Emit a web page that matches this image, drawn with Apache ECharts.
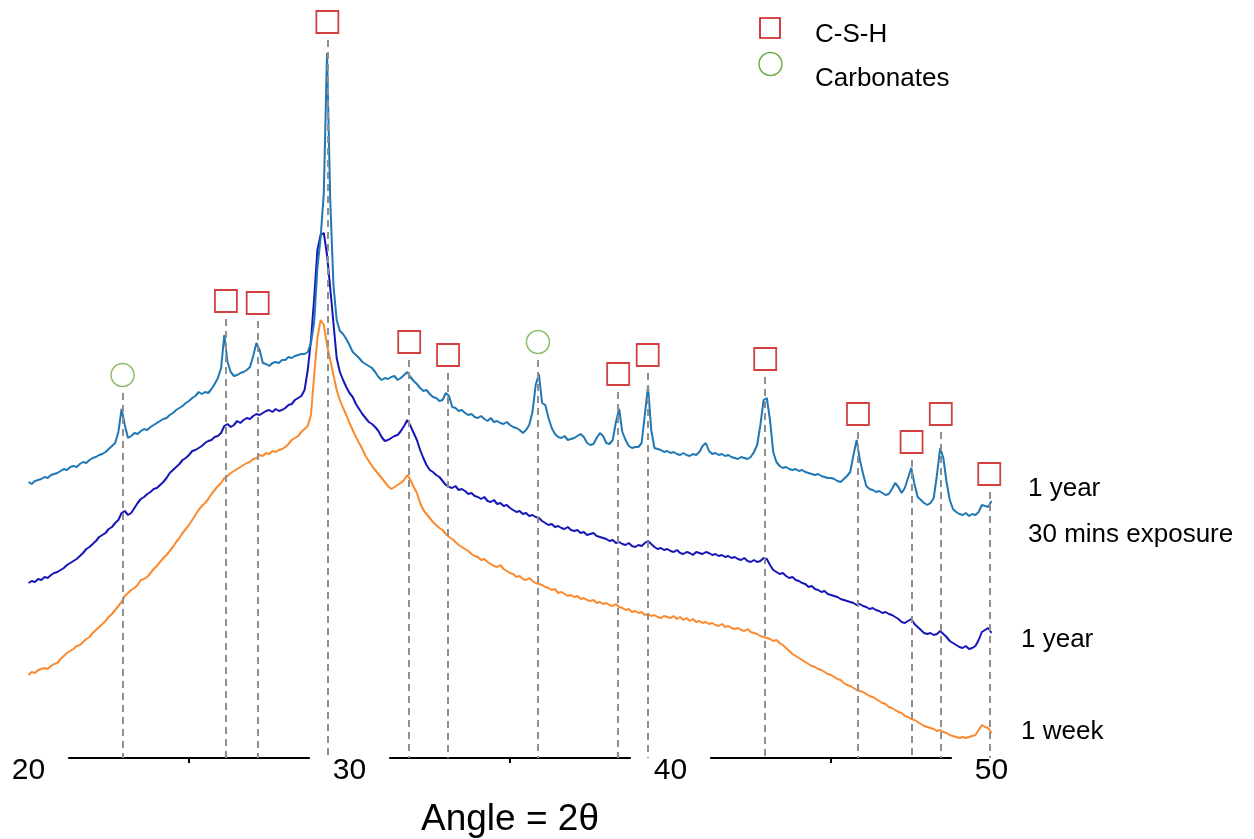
<!DOCTYPE html>
<html>
<head>
<meta charset="utf-8">
<script src="https://cdn.jsdelivr.net/npm/echarts@6/dist/echarts.min.js"></script>
<style>
html,body{margin:0;padding:0;background:#fff;}
#chart{width:1254px;height:839px;}
</style>
</head>
<body>
<div id="chart"></div>
<script>
// ---- Data (intensity in arbitrary units, vertically offset traces) ----
const scanStart = 20;      // degrees 2θ
const scanStep = 0.1;      // scan step, degrees

// 1 year, 30 mins exposure (top trace)
const oneYear30min = [
276,274,277,278,279,281,280,283,284,285,
287,289,288,291,292,291,294,296,295,298,
300,301,303,304,306,309,312,315,326,349,
333,320,322,325,324,327,329,328,331,333,
335,337,339,340,343,345,348,350,352,355,
357,360,362,366,364,366,365,369,374,380,
390,423,396,386,382,383,385,386,388,391,
402,415,408,395,394,392,395,396,395,398,
398,401,400,402,403,404,404,406,415,436,
490,520,565,705,558,473,438,427,424,419,
413,406,403,400,396,394,392,390,386,381,
378,380,379,381,382,378,380,383,386,381,
377,374,370,367,368,364,361,360,357,358,
365,362,351,350,347,348,345,343,344,341,
340,342,339,337,340,336,337,335,334,336,
333,331,330,328,325,328,333,346,373,384,
355,353,340,330,324,321,320,322,318,319,
320,322,324,321,315,313,314,320,325,322,
315,314,318,336,349,326,318,312,310,311,
311,315,343,372,328,310,309,308,306,307,
305,306,304,303,305,303,302,304,303,306,
312,315,307,304,305,303,304,302,303,301,
300,299,301,300,299,301,306,313,333,358,
360,338,306,296,292,290,291,289,288,289,
287,288,286,285,284,283,284,282,281,280,
280,279,277,276,279,282,286,303,318,298,
284,272,269,268,266,267,265,263,264,269,
275,271,265,270,280,290,274,261,258,255,
253,255,260,283,310,300,276,258,249,246,
244,243,245,242,244,243,246,253,252,251,
257
];

// 1 year (middle trace)
const oneYear = [
175,177,176,179,178,181,180,183,185,186,
188,190,193,195,197,199,202,205,209,211,
214,217,221,223,225,229,231,235,238,245,
247,243,245,250,255,259,261,264,266,269,
270,273,276,280,285,288,291,294,298,300,
303,307,308,310,312,315,317,318,321,322,
325,332,334,331,333,337,335,338,340,339,
342,344,343,345,347,348,346,349,347,348,
350,353,354,358,360,362,368,388,418,460,
508,523,525,503,470,435,400,386,378,371,
365,361,354,349,344,340,336,334,331,327,
321,317,318,320,322,323,327,332,338,332,
325,318,308,300,293,288,286,283,281,277,
273,271,270,272,268,269,267,264,265,262,
261,259,261,257,256,258,254,255,252,253,
250,248,246,247,244,245,242,243,241,240,
237,235,233,234,231,232,230,229,231,228,
227,228,225,226,223,224,225,222,221,220,
219,217,218,215,216,214,213,215,212,211,
213,212,215,217,214,211,209,210,208,209,
207,206,208,205,204,206,205,203,206,205,
204,206,205,203,204,202,203,201,202,200,
201,199,198,200,197,196,198,196,197,200,
199,193,188,186,184,185,182,180,181,178,
177,175,174,171,172,169,168,166,167,164,
163,162,161,159,158,157,156,155,153,154,
152,151,149,150,148,147,145,146,144,143,
141,139,136,135,137,139,134,131,128,125,
124,125,123,124,127,124,121,117,115,113,
111,110,112,109,110,112,118,126,128,130,
125
];

// 1 week (bottom trace)
const oneWeek = [
83,86,85,88,89,90,89,92,94,95,
99,102,105,107,109,112,113,116,119,121,
125,128,131,134,137,141,144,148,152,156,
162,165,168,170,173,178,179,181,185,189,
192,196,200,203,207,211,216,220,225,229,
233,238,243,248,252,255,259,264,268,272,
275,280,282,285,287,289,291,293,295,296,
299,300,303,302,305,304,307,306,308,309,
311,314,318,320,322,326,329,332,343,383,
420,438,433,413,398,383,368,358,350,343,
335,328,321,315,309,302,297,292,288,284,
280,276,272,269,271,273,275,278,283,278,
271,265,255,248,244,240,236,233,230,228,
224,221,219,216,213,211,209,207,204,202,
201,198,199,196,194,192,191,193,189,187,
185,184,181,182,179,178,180,177,175,174,
173,171,170,168,169,165,166,164,162,163,
161,162,159,160,158,157,158,155,156,154,
155,153,152,154,151,150,148,149,146,147,
145,146,143,144,142,143,141,140,142,141,
140,142,139,141,138,140,137,139,136,137,
135,136,134,135,133,132,134,131,132,130,
129,130,128,127,129,126,125,124,122,121,
120,119,117,118,115,113,110,107,104,102,
100,98,96,94,92,91,89,88,86,84,
83,81,79,78,75,73,72,70,68,67,
66,64,62,61,59,57,55,54,51,50,
48,46,45,42,41,39,38,36,34,32,
31,30,29,27,28,26,25,23,22,21,
20,21,20,21,22,23,28,33,31,30,
25
];

// Peak assignments (2θ) and marker heights (same intensity units)
const cshPeaks  = [26.15, 27.14, 29.31, 31.86, 33.07, 38.37, 39.29, 42.95, 45.84, 47.51, 48.42, 49.93];
const cshMarkY  = [457, 455, 736, 416, 403, 384, 403, 399, 344, 316, 344, 284];
const carbPeaks = [22.93, 35.87];
const carbMarkY = [383, 416];

const xMin = 20, xMax = 50, xInterval = 10;
const traceNames = ['1 year, 30 mins exposure', '1 year', '1 week'];
const legendNames = ['C-S-H', 'Carbonates'];
const axisTitle = 'Angle = 2θ';

// ---- Build chart ----
const FONT = '"Liberation Sans", Arial, Helvetica, sans-serif';
const angles = oneWeek.map((_, i) => +(scanStart + i * scanStep).toFixed(2));
const toPairs = arr => arr.map((v, i) => [angles[i], v]);
const DASH_GAP = 18;
const RED = '#c81010', GREEN = '#70ad47';

function peakLines(peaks, markY) {
  return peaks.map((a, i) => [{ coord: [a, markY[i] - DASH_GAP] }, { coord: [a, 0] }]);
}

const chart = echarts.init(document.getElementById('chart'), null, { renderer: 'canvas' });

const lineSeries = (name, data, color) => ({
  name, type: 'line', data: toPairs(data), showSymbol: false, symbol: 'none',
  smooth: false, lineStyle: { width: 2, color }, itemStyle: { color },
  emphasis: { disabled: true }, silent: true, z: 2
});

const dashStyle = { type: [7, 5], color: '#8f8f8f', width: 2 };
const textStyle = (text) => ({ text, fontSize: 26, fontFamily: FONT, fill: '#000', align: 'left', verticalAlign: 'middle' });

const option = {
  animation: false,
  backgroundColor: '#ffffff',
  grid: { left: 28.5, right: 262.5, top: 0, bottom: 81, containLabel: false, outerBoundsMode: 'none' },
  xAxis: {
    type: 'value', min: xMin, max: xMax, interval: xInterval,
    axisLine: { show: true, onZero: false, lineStyle: { color: '#000', width: 2 } },
    axisTick: { show: false },
    minorTick: { show: true, splitNumber: 2, length: 5, lineStyle: { color: '#000', width: 2 } },
    splitLine: { show: false },
    minorSplitLine: { show: false },
    axisLabel: {
      fontSize: 30, color: '#000', fontFamily: FONT, margin: -6,
      backgroundColor: '#fff', padding: [4, 23]
    },
    name: axisTitle, nameLocation: 'middle', nameGap: 43,
    nameTextStyle: { fontSize: 37, color: '#000', fontFamily: FONT }
  },
  yAxis: { type: 'value', min: 0, max: 758, show: false },
  series: [
    lineSeries(traceNames[2], oneWeek, '#fb8a2e'),
    lineSeries(traceNames[1], oneYear, '#1616b8'),
    lineSeries(traceNames[0], oneYear30min, '#1f77b4'),
    {
      name: legendNames[0], type: 'scatter', symbol: 'rect', symbolSize: 22,
      data: cshPeaks.map((a, i) => [a, cshMarkY[i]]),
      itemStyle: { color: 'rgba(255,255,255,0)', borderColor: RED, borderWidth: 1.8 },
      emphasis: { disabled: true }, silent: true, z: 4,
      markLine: {
        silent: true, symbol: ['none', 'none'], label: { show: false },
        lineStyle: dashStyle, emphasis: { disabled: true },
        data: peakLines(cshPeaks, cshMarkY)
      }
    },
    {
      name: legendNames[1], type: 'scatter', symbol: 'circle', symbolSize: 23,
      data: carbPeaks.map((a, i) => [a, carbMarkY[i]]),
      itemStyle: { color: 'rgba(255,255,255,0)', borderColor: GREEN, borderWidth: 1.5 },
      emphasis: { disabled: true }, silent: true, z: 4,
      markLine: {
        silent: true, symbol: ['none', 'none'], label: { show: false },
        lineStyle: dashStyle, emphasis: { disabled: true },
        data: peakLines(carbPeaks, carbMarkY)
      }
    }
  ],
  graphic: [
    { type: 'rect', shape: { x: 760, y: 18, width: 20, height: 20 },
      style: { fill: 'none', stroke: RED, lineWidth: 1.6 } },
    { type: 'circle', shape: { cx: 770.5, cy: 64, r: 11.5 },
      style: { fill: 'none', stroke: GREEN, lineWidth: 1.5 } },
    { type: 'text', x: 815, y: 35, style: textStyle(legendNames[0]) },
    { type: 'text', x: 815, y: 79, style: textStyle(legendNames[1]) },
    { type: 'text', x: 1028, y: 489, style: textStyle('1 year') },
    { type: 'text', x: 1028, y: 535, style: textStyle('30 mins exposure') },
    { type: 'text', x: 1021, y: 640, style: textStyle(traceNames[1]) },
    { type: 'text', x: 1021, y: 732, style: textStyle(traceNames[2]) }
  ]
};

chart.setOption(option);
</script>
</body>
</html>
